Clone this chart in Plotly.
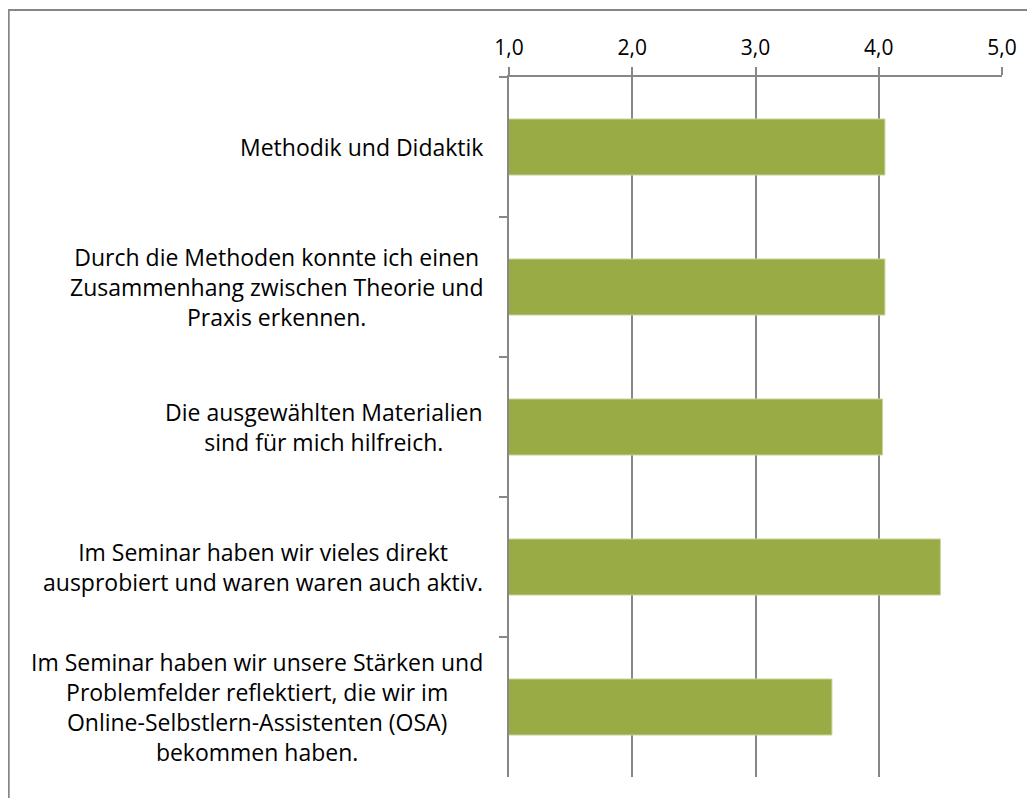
import plotly.graph_objects as go

categories = [
    "Methodik und Didaktik",
    "Durch die Methoden konnte ich einen<br>Zusammenhang zwischen Theorie und<br>Praxis erkennen.",
    "Die ausgewählten Materialien<br>sind für mich hilfreich.",
    "Im Seminar haben wir vieles direkt<br>ausprobiert und waren waren auch aktiv.",
    "Im Seminar haben wir unsere Stärken und<br>Problemfelder reflektiert, die wir im<br>Online-Selbstlern-Assistenten (OSA)<br>bekommen haben.",
]
values = [4.05, 4.05, 4.03, 4.50, 3.62]
tick_values = [1, 2, 3, 4, 5]
tick_labels = ["1,0", "2,0", "3,0", "4,0", "5,0"]

GRID = "#878787"
FONT = "Open Sans"

fig = go.Figure()
fig.add_trace(go.Bar(
    y=categories, x=values, orientation="h",
    marker=dict(color="#98AB45", line=dict(color="#C4D49A", width=1)),
    hoverinfo="skip",
))

for cat in categories:
    fig.add_annotation(
        x=1, y=cat, xref="x", yref="y", text=cat, showarrow=False,
        xanchor="right", yanchor="middle", align="center", xshift=-24,
        font=dict(family=FONT, size=23, color="#000000"),
    )

# page body has an 8px margin, so the figure is offset by 8px
OFF = 8
W, H = 1035 - OFF, 798 - OFF
L, T = 509 - OFF, 77 - OFF
R = W - (1001.7 - OFF)
B = H - (777 - OFF)
pw, ph = W - L - R, H - T - B

def px_x(p):
    return (p - OFF - L) / pw

def px_y(p):
    return (H - B - (p - OFF)) / ph

fig.add_shape(type="rect", xref="paper", yref="paper",
              x0=px_x(9), x1=px_x(1029), y0=px_y(830), y1=px_y(10),
              line=dict(color="#868686", width=2), fillcolor="rgba(0,0,0,0)", layer="below")

fig.update_layout(
    width=W, height=H,
    margin=dict(l=L, r=R, t=T, b=B, pad=0),
    paper_bgcolor="white", plot_bgcolor="white",
    showlegend=False,
    bargap=0.6,
    font=dict(family=FONT, size=21, color="#000000"),
    xaxis=dict(
        side="top", range=[1, 5], tickvals=tick_values, ticktext=tick_labels,
        showgrid=True, gridcolor=GRID, gridwidth=2,
        showline=True, linecolor=GRID, linewidth=2,
        ticks="outside", ticklen=8, tickcolor=GRID, tickwidth=2,
        tickfont=dict(family=FONT, size=21, color="#000000"),
        ticklabelstandoff=4,
        zeroline=False, fixedrange=True,
    ),
    yaxis=dict(
        categoryorder="array", categoryarray=categories, autorange="reversed",
        showticklabels=False, showgrid=False,
        showline=True, linecolor=GRID, linewidth=2,
        ticks="outside", ticklen=8, tickcolor=GRID, tickwidth=2,
        tickson="boundaries", fixedrange=True,
    ),
)

fig.write_html("out.html")
